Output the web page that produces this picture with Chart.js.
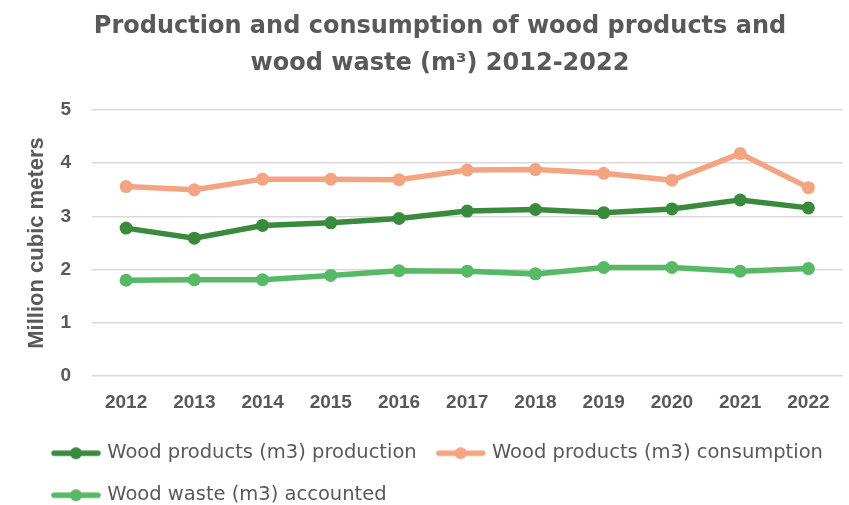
<!DOCTYPE html>
<html>
<head>
<meta charset="utf-8">
<script src="https://cdn.jsdelivr.net/npm/chart.js@4.4.0/dist/chart.umd.min.js"></script>
<style>
  html, body { margin: 0; padding: 0; background: #fff; }
  #wrap { width: 849px; height: 505px; }
</style>
</head>
<body>
<div id="wrap"><canvas id="woodChart"></canvas></div>
<script>
const years = ["2012", "2013", "2014", "2015", "2016", "2017", "2018", "2019", "2020", "2021", "2022"];
const production = [2.78, 2.59, 2.83, 2.88, 2.96, 3.10, 3.13, 3.07, 3.14, 3.31, 3.16];
const consumption = [3.56, 3.50, 3.70, 3.70, 3.69, 3.87, 3.88, 3.81, 3.68, 4.18, 3.54];
const waste = [1.80, 1.81, 1.81, 1.89, 1.98, 1.97, 1.92, 2.04, 2.04, 1.97, 2.02];

const textGray = "#595959";

// legend marker: short line with a dot in the middle
function legendMarker(color) {
  const c = document.createElement("canvas");
  c.width = 52;
  c.height = 14;
  const g = c.getContext("2d");
  g.strokeStyle = color;
  g.lineWidth = 5.5;
  g.lineCap = "round";
  g.beginPath();
  g.moveTo(4, 7);
  g.lineTo(48, 7);
  g.stroke();
  g.fillStyle = color;
  g.beginPath();
  g.arc(26, 7, 6, 0, Math.PI * 2);
  g.fill();
  return c;
}

function makeSet(label, values, color) {
  return {
    label: label,
    data: values,
    borderColor: color,
    backgroundColor: color,
    borderWidth: 5.5,
    pointRadius: 6.5,
    pointHoverRadius: 6.5,
    pointBorderWidth: 0,
    pointStyle: "circle",
    legendMarker: legendMarker(color),
  };
}

const ctx = document.getElementById("woodChart").getContext("2d");

new Chart(ctx, {
  type: "line",
  data: {
    labels: years,
    datasets: [
      makeSet("Wood products (m3) production", production, "#3a8a3e"),
      makeSet("Wood products (m3) consumption", consumption, "#f3a583"),
      makeSet("Wood waste (m3) accounted", waste, "#57b865"),
    ],
  },
  options: {
    responsive: true,
    maintainAspectRatio: false,
    animation: false,
    layout: { padding: { left: 32, right: 1, top: 9, bottom: -10 } },
    plugins: {
      tooltip: { enabled: false },
      title: {
        display: true,
        text: ["Production and consumption of wood products and", "wood waste (m\u00b3) 2012-2022"],
        color: textGray,
        font: { family: "'DejaVu Sans'", size: 24, weight: "bold", lineHeight: 1.52 },
        padding: { top: 0, bottom: 28 },
      },
      legend: {
        position: "bottom",
        align: "start",
        labels: {
          color: textGray,
          font: { family: "'DejaVu Sans'", size: 19.5 },
          usePointStyle: true,
          pointStyleWidth: 43,
          padding: 22.5,
          generateLabels: (chart) =>
            chart.data.datasets.map((ds, i) => ({
              text: ds.label,
              fillStyle: ds.borderColor,
              strokeStyle: ds.borderColor,
              pointStyle: ds.legendMarker,
              fontColor: textGray,
              datasetIndex: i,
              hidden: false,
            })),
        },
      },
    },
    scales: {
      x: {
        offset: true,
        grid: { display: false },
        border: { display: false },
        ticks: {
          color: textGray,
          font: { family: "'Liberation Sans'", size: 19, weight: "bold", lineHeight: 0.05 },
          padding: 18,
        },
      },
      y: {
        min: 0,
        max: 5,
        afterFit: (axis) => {
          axis.width = 60;
        },
        ticks: {
          stepSize: 1,
          color: textGray,
          font: { family: "'Liberation Sans'", size: 19, weight: "bold" },
          padding: 21,
        },
        grid: { color: "#d9d9d9", lineWidth: 1.5, drawTicks: false },
        border: { display: false },
        title: {
          display: true,
          text: "Million cubic meters",
          color: textGray,
          font: { family: "'Liberation Sans'", size: 22, weight: "bold" },
          padding: { top: -8, bottom: 8 },
        },
      },
    },
  },
});
</script>
</body>
</html>
